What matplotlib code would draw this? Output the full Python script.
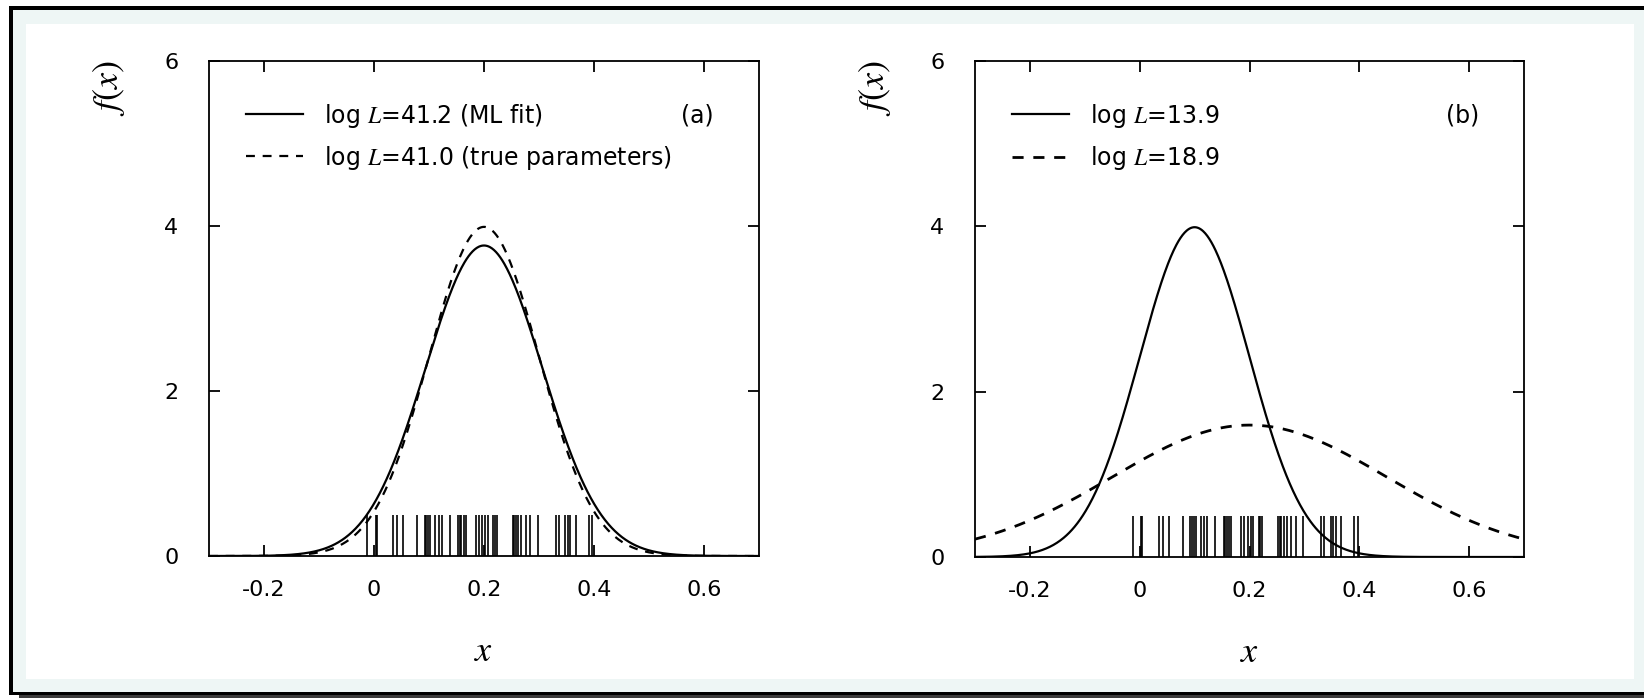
import numpy as np
import matplotlib
matplotlib.use('Agg')
import matplotlib.pyplot as plt
from matplotlib.patches import Rectangle

plt.rcParams['font.family'] = ['DejaVu Sans']
plt.rcParams['mathtext.fontset'] = 'stix'
plt.rcParams['axes.unicode_minus'] = False

# ---- data ----
rug_x = [-0.012, 0.003, 0.005, 0.035, 0.042, 0.053, 0.078, 0.092, 0.095, 0.098,
         0.102, 0.111, 0.118, 0.123, 0.138, 0.153, 0.156, 0.159, 0.163, 0.167,
         0.185, 0.190, 0.197, 0.202, 0.207, 0.217, 0.220, 0.223, 0.252, 0.255,
         0.258, 0.262, 0.268, 0.276, 0.284, 0.298, 0.330, 0.336, 0.348, 0.352,
         0.357, 0.367, 0.391, 0.397]
rug_height = 0.5

a_labels = ['log $L$=41.2 (ML fit)', 'log $L$=41.0 (true parameters)']
a_mu = [0.2, 0.2]
a_sigma = [0.106, 0.1]

b_labels = ['log $L$=13.9', 'log $L$=18.9']
b_mu = [0.1, 0.2]
b_sigma = [0.1, 0.25]

panel_tags = ['(a)', '(b)']
x_ticks = [-0.2, 0, 0.2, 0.4, 0.6]
x_tick_labels = ['-0.2', '0', '0.2', '0.4', '0.6']
y_ticks = [0, 2, 4, 6]
y_tick_labels = ['0', '2', '4', '6']

W, H = 1644, 698
fig = plt.figure(figsize=(W / 100, H / 100), dpi=100)
fig.patch.set_facecolor('white')


def prect(x0, y0, x1, y1, color):
    r = Rectangle((x0 / W, 1 - y1 / H), (x1 - x0) / W, (y1 - y0) / H,
                  transform=fig.transFigure, facecolor=color, edgecolor='none',
                  zorder=-10)
    fig.patches.append(r)


prect(19, 692, 1660, 700, '#3c3c3c')
prect(9, 6, 1660, 695, '#000000')
prect(13, 10, 1660, 692, '#eef6f5')
prect(26, 24, 1634, 679, '#ffffff')

xs = np.linspace(-0.3, 0.7, 800)


def gauss(x, mu, s):
    return np.exp(-0.5 * ((x - mu) / s) ** 2) / (s * np.sqrt(2 * np.pi))


def setup(ax):
    ax.set_xlim(-0.3, 0.7)
    ax.set_ylim(0, 6)
    ax.set_xticks(x_ticks)
    ax.set_xticklabels(x_tick_labels)
    ax.set_yticks(y_ticks)
    ax.set_yticklabels(y_tick_labels)
    ax.tick_params(axis='both', direction='in', length=8, width=1.3,
                   top=True, right=True, labelsize=16, colors='black')
    ax.tick_params(axis='y', pad=22)
    ax.tick_params(axis='x', pad=17)
    for sp in ax.spines.values():
        sp.set_linewidth(1.3)
    ax.set_xlabel('$x$', fontsize=26)
    ax.xaxis.set_label_coords(0.5, -0.158)
    ax.set_ylabel('$f(x)$', fontsize=26, rotation=90)
    ax.yaxis.set_label_coords(-0.150, 0.945)


axes_pos = [[209 / W, 1 - 556 / H, 550 / W, 495 / H],
            [975 / W, 1 - 557 / H, 549 / W, 496 / H]]
params = [(a_labels, a_mu, a_sigma, [1.6, 1.6]),
          (b_labels, b_mu, b_sigma, [1.6, 2.0])]

for i, (labels, mus, sigmas, lws) in enumerate(params):
    ax = fig.add_axes(axes_pos[i])
    setup(ax)
    ax.vlines(rug_x, 0, rug_height, colors='black', linewidth=1.2)
    ax.plot(xs, gauss(xs, mus[0], sigmas[0]), color='black', lw=lws[0],
            label=labels[0])
    ax.plot(xs, gauss(xs, mus[1], sigmas[1]), color='black', lw=lws[1],
            dashes=(4, 3.5), label=labels[1])
    leg = ax.legend(loc='upper left', bbox_to_anchor=(0.068, 0.918),
                    frameon=False, fontsize=17, borderpad=0, borderaxespad=0,
                    handlelength=2.4, handletextpad=0.9, labelspacing=0.6)
    ax.text(0.888, 0.89, panel_tags[i], transform=ax.transAxes,
            fontsize=17, ha='center', va='center')

fig.savefig('out.png', dpi=100, facecolor=fig.get_facecolor())
